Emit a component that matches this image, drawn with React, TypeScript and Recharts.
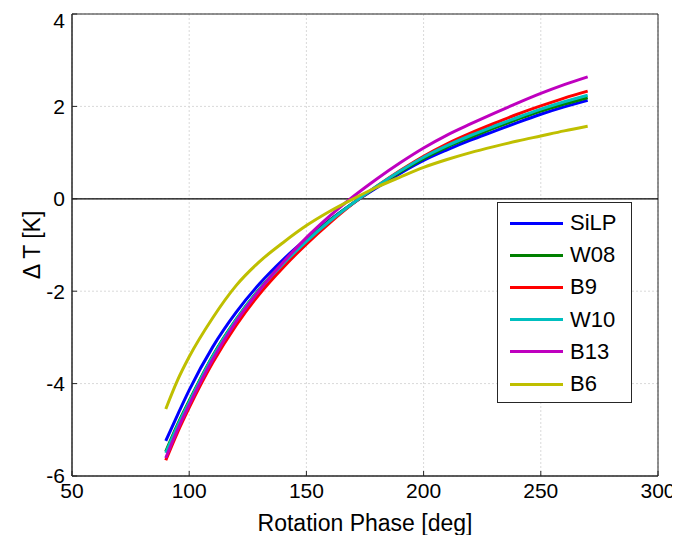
import {
  LineChart,
  Line,
  XAxis,
  YAxis,
  CartesianGrid,
  ReferenceLine,
  ReferenceArea,
} from "recharts";

const phase = [90, 95, 100, 110, 120, 130, 140, 150, 160, 170, 180, 190, 200, 210, 220, 230, 240, 250, 260, 270];

const silp = [-5.24, -4.68, -4.14, -3.21, -2.46, -1.84, -1.32, -0.87, -0.46, -0.09, 0.24, 0.55, 0.83, 1.06, 1.27, 1.46, 1.65, 1.83, 1.99, 2.13];
const w08 = [-5.47, -4.89, -4.37, -3.4, -2.61, -1.95, -1.4, -0.91, -0.47, -0.09, 0.26, 0.58, 0.87, 1.12, 1.33, 1.53, 1.72, 1.9, 2.05, 2.19];
const b9 = [-5.66, -5.06, -4.52, -3.55, -2.74, -2.06, -1.49, -0.98, -0.52, -0.1, 0.27, 0.61, 0.92, 1.19, 1.42, 1.63, 1.83, 2.01, 2.18, 2.33];
const w10 = [-5.5, -4.92, -4.4, -3.42, -2.62, -1.96, -1.41, -0.92, -0.48, -0.09, 0.27, 0.6, 0.9, 1.15, 1.37, 1.57, 1.76, 1.94, 2.1, 2.24];
const b13 = [-5.61, -5.0, -4.46, -3.48, -2.66, -1.98, -1.38, -0.84, -0.37, 0.05, 0.43, 0.78, 1.1, 1.38, 1.62, 1.85, 2.07, 2.28, 2.47, 2.64];
const b6 = [-4.55, -3.93, -3.42, -2.58, -1.88, -1.36, -0.95, -0.58, -0.27, 0.0, 0.25, 0.47, 0.68, 0.85, 1.0, 1.13, 1.25, 1.36, 1.47, 1.57];

const xTicks = [50, 100, 150, 200, 250, 300];
const yTicks = [-6, -4, -2, 0, 2, 4];

const series = [
  { key: "SiLP", values: silp, color: "#0000ff" },
  { key: "W08", values: w08, color: "#008000" },
  { key: "B9", values: b9, color: "#ff0000" },
  { key: "W10", values: w10, color: "#00bfbf" },
  { key: "B13", values: b13, color: "#bf00bf" },
  { key: "B6", values: b6, color: "#bfbf00" },
];

const data = phase.map((p, i) => {
  const row: Record<string, number> = { phase: p };
  series.forEach((s) => {
    row[s.key] = s.values[i];
  });
  return row;
});

const FONT = "'Liberation Sans', Arial, Helvetica, sans-serif";
const AXIS = "#262626";

// legend sits over the plot, like the matlab one
function LegendBox() {
  return (
    <div
      style={{
        position: "absolute",
        left: 489,
        top: 194,
        width: 133,
        height: 195,
        border: `1px solid ${AXIS}`,
        background: "#fff",
        paddingTop: 4,
        fontFamily: FONT,
        fontSize: 22,
        color: "#000",
      }}
    >
      {series.map((s) => (
        <div
          key={s.key}
          style={{ display: "flex", alignItems: "center", height: 32.2 }}
        >
          <div
            style={{
              marginLeft: 12,
              width: 53,
              height: 3,
              background: s.color,
            }}
          />
          <span style={{ marginLeft: 7 }}>{s.key}</span>
        </div>
      ))}
    </div>
  );
}

function YLabel(props: any) {
  const { viewBox } = props;
  const cx = 24;
  const cy = viewBox.y + viewBox.height / 2;
  return (
    <text
      x={cx}
      y={cy}
      transform={`rotate(-90 ${cx} ${cy})`}
      textAnchor="middle"
      dominantBaseline="central"
      fontFamily={FONT}
      fontSize={23}
      fill="#000"
    >
      Δ T [K]
    </text>
  );
}

function XLabel(props: any) {
  const { viewBox } = props;
  return (
    <text
      x={viewBox.x + viewBox.width / 2}
      y={viewBox.y + 55}
      textAnchor="middle"
      fontFamily={FONT}
      fontSize={23}
      fill="#000"
    >
      Rotation Phase [deg]
    </text>
  );
}

export default function App() {
  const tickStyle = { fontFamily: FONT, fontSize: 21, fill: "#000" };
  return (
    <div style={{ position: "relative", width: 672, height: 527 }}>
      <LineChart
        width={672}
        height={527}
        data={data}
        margin={{ top: 6, right: 22, bottom: 0, left: 8 }}
      >
        <CartesianGrid stroke="#d9d9d9" strokeDasharray="2 2" />
        <XAxis
          dataKey="phase"
          type="number"
          domain={[50, 300]}
          ticks={xTicks}
          height={59}
          tickSize={-5}
          tickMargin={12}
          stroke={AXIS}
          tick={tickStyle}
          label={<XLabel />}
        />
        <XAxis
          xAxisId="top"
          orientation="top"
          dataKey="phase"
          type="number"
          domain={[50, 300]}
          ticks={xTicks}
          height={0}
          tickSize={-5}
          tick={false}
          stroke={AXIS}
        />
        <YAxis
          type="number"
          domain={[-6, 4]}
          ticks={yTicks}
          width={56}
          tickSize={-5}
          tickMargin={12}
          stroke={AXIS}
          tick={tickStyle}
          label={<YLabel />}
        />
        <YAxis
          yAxisId="right"
          orientation="right"
          type="number"
          domain={[-6, 4]}
          ticks={yTicks}
          width={0}
          tickSize={-5}
          tick={false}
          stroke={AXIS}
        />
        <ReferenceArea
          x1={50}
          x2={300}
          y1={-6}
          y2={4}
          fill="none"
          stroke={AXIS}
          strokeWidth={1}
        />
        <ReferenceLine y={0} stroke="#000" strokeWidth={1.2} />
        {series.map((s) => (
          <Line
            key={s.key}
            dataKey={s.key}
            type="monotone"
            stroke={s.color}
            strokeWidth={3}
            dot={false}
            isAnimationActive={false}
          />
        ))}
      </LineChart>
      <LegendBox />
    </div>
  );
}
